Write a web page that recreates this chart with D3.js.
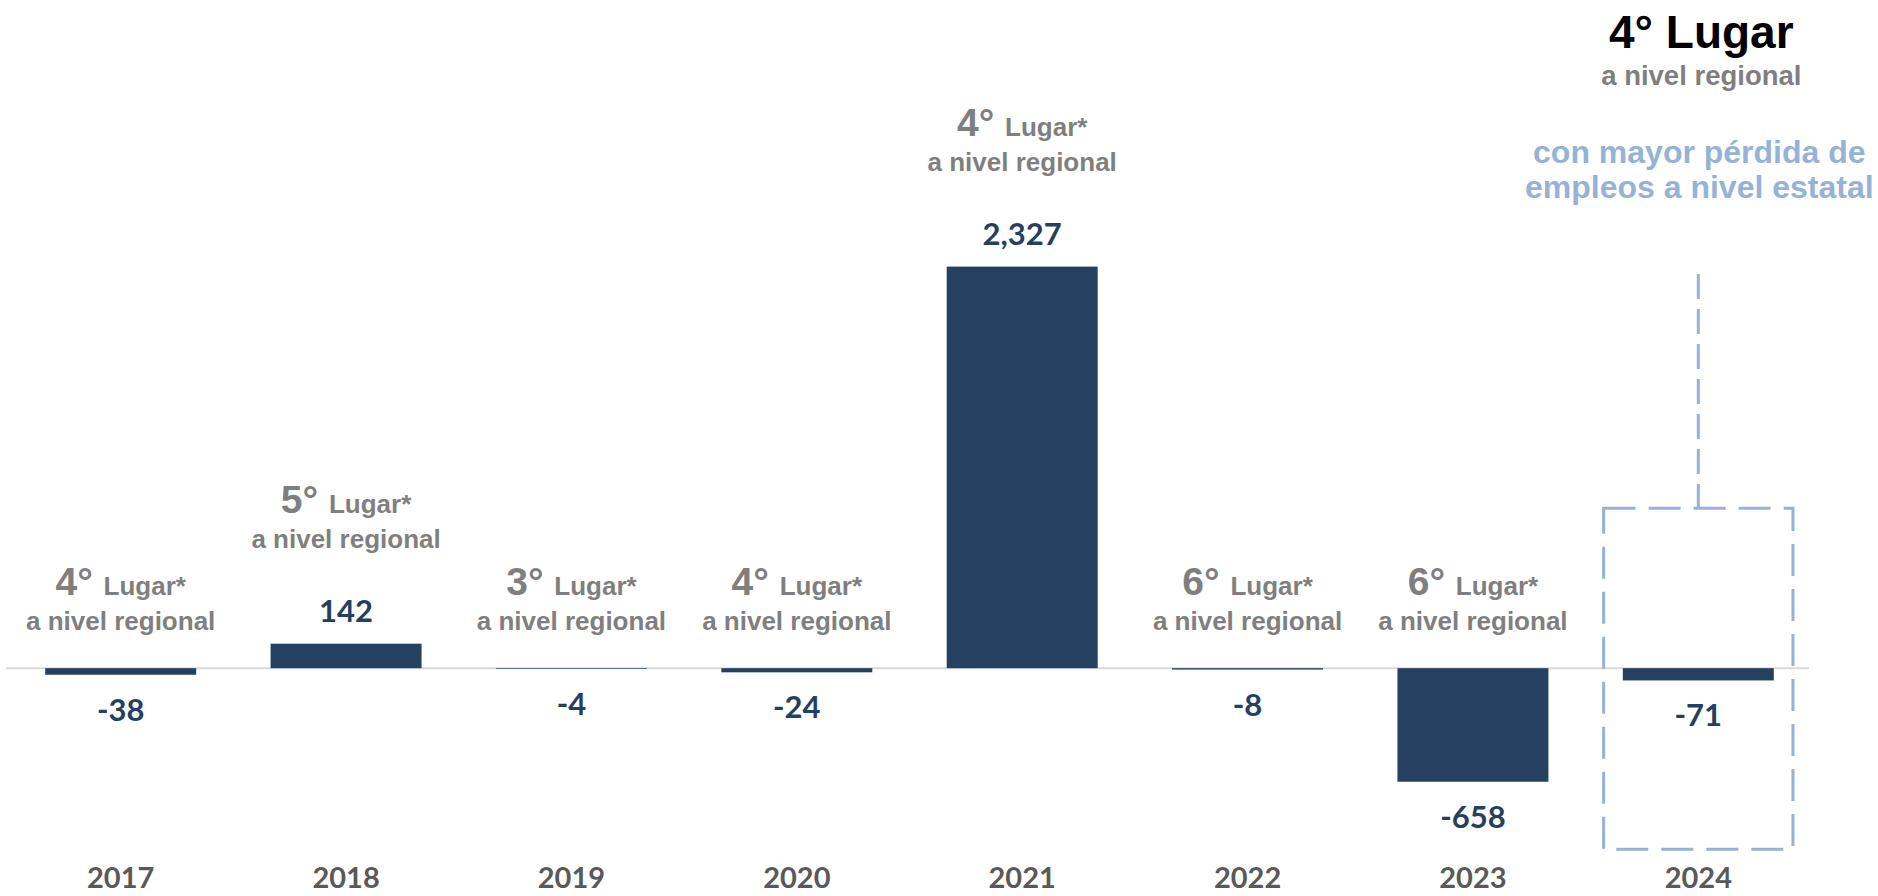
<!DOCTYPE html>
<html>
<head>
<meta charset="utf-8">
<script src="https://cdn.jsdelivr.net/npm/d3@7"></script>
<style>
  html, body { margin: 0; padding: 0; background: #fff; }
  svg { display: block; }
</style>
</head>
<body>
<div id="chart"></div>
<script>
// empleos ganados / perdidos por año
const years = ['2017', '2018', '2019', '2020', '2021', '2022', '2023', '2024']
const values = [-38, 142, -4, -24, 2327, -8, -658, -71]
// lugar a nivel regional (2024 va aparte, arriba a la derecha)
const ranks = [4, 5, 3, 4, 4, 6, 6, null]
const highlightRank = 4
const highlightNote = ['con mayor pérdida de', 'empleos a nivel estatal']

const width = 1878
const height = 896
const barColor = '#264061'
const labelColor = '#243F60'
const grey = '#7F7F7F'
const blue = '#95B3D7'
const arial = '"Liberation Sans", Arial, sans-serif'
const numFont = 'Lato, "Open Sans", sans-serif'

// guion normal, no el signo menos tipográfico
const fmt = d3.formatLocale({ decimal: '.', thousands: ',', grouping: [3], currency: ['$', ''], minus: '-' }).format(',')

const svg = d3
  .select('#chart')
  .append('svg')
  .attr('width', width)
  .attr('height', height)

const x = d3
  .scaleBand()
  .domain(years)
  .range([8, 1811])
  .paddingInner(0.33)
  .paddingOuter(0.165)

const y = d3.scaleLinear().domain([-700, 2400]).range([789, 254])
const y0 = y(0)

// línea base
svg
  .append('line')
  .attr('x1', 6)
  .attr('x2', 1809)
  .attr('y1', y0)
  .attr('y2', y0)
  .attr('stroke', '#D9D9D9')
  .attr('stroke-width', 2)

const data = years.map((year, i) => ({ year, value: values[i], rank: ranks[i] }))

svg
  .selectAll('rect.bar')
  .data(data)
  .enter()
  .append('rect')
  .attr('class', 'bar')
  .attr('x', (d) => x(d.year))
  .attr('width', x.bandwidth())
  .attr('y', (d) => Math.min(y(d.value), y0))
  .attr('height', (d) => Math.abs(y(d.value) - y0))
  .attr('fill', barColor)

// etiquetas de valor
const valueY = (d) => (d.value >= 0 ? y(d.value) - 22 : y(d.value) + 46)

svg
  .selectAll('text.value')
  .data(data)
  .enter()
  .append('text')
  .attr('class', 'value')
  .attr('x', (d) => x(d.year) + x.bandwidth() / 2)
  .attr('y', valueY)
  .attr('text-anchor', 'middle')
  .attr('font-family', numFont)
  .attr('font-weight', 700)
  .attr('font-size', 31)
  .attr('fill', labelColor)
  .text((d) => fmt(d.value))

// años
svg
  .selectAll('text.year')
  .data(data)
  .enter()
  .append('text')
  .attr('class', 'year')
  .attr('x', (d) => x(d.year) + x.bandwidth() / 2)
  .attr('y', 888)
  .attr('text-anchor', 'middle')
  .attr('font-family', numFont)
  .attr('font-weight', 700)
  .attr('font-size', 29)
  .attr('fill', '#595959')
  .text((d) => d.year)

// lugar a nivel regional
const rankLine2 = (d) => (d.value >= 0 ? valueY(d) - 74 : y0 - 38)

const notes = svg
  .selectAll('g.note')
  .data(data.filter((d) => d.rank != null))
  .enter()
  .append('g')
  .attr('class', 'note')
  .attr('font-family', arial)
  .attr('font-weight', 700)
  .attr('fill', grey)

const line1 = notes
  .append('text')
  .attr('x', (d) => x(d.year) + x.bandwidth() / 2)
  .attr('y', (d) => rankLine2(d) - 35)
  .attr('text-anchor', 'middle')

line1
  .append('tspan')
  .attr('font-size', 39)
  .text((d) => d.rank + '° ')

line1
  .append('tspan')
  .attr('font-size', 26)
  .text('Lugar*')

notes
  .append('text')
  .attr('x', (d) => x(d.year) + x.bandwidth() / 2)
  .attr('y', rankLine2)
  .attr('text-anchor', 'middle')
  .attr('font-size', 26)
  .text('a nivel regional')

// 2024 resaltado
const last = years[years.length - 1]
const cx = x(last) + x.bandwidth() / 2
const half = x.step() * 0.42

svg
  .append('rect')
  .attr('x', cx - half)
  .attr('y', y0 - 160)
  .attr('width', half * 2)
  .attr('height', 341)
  .attr('fill', 'none')
  .attr('stroke', blue)
  .attr('stroke-width', 3)
  .attr('stroke-dasharray', '32,13')

svg
  .append('line')
  .attr('x1', cx)
  .attr('x2', cx)
  .attr('y1', 274)
  .attr('y2', y0 - 160)
  .attr('stroke', blue)
  .attr('stroke-width', 3)
  .attr('stroke-dasharray', '25,10')

svg
  .append('text')
  .attr('x', cx + 3)
  .attr('y', 48)
  .attr('text-anchor', 'middle')
  .attr('font-family', arial)
  .attr('font-weight', 700)
  .attr('font-size', 46)
  .attr('fill', '#000')
  .text(highlightRank + '° Lugar')

svg
  .append('text')
  .attr('x', cx + 3)
  .attr('y', 85)
  .attr('text-anchor', 'middle')
  .attr('font-family', arial)
  .attr('font-weight', 700)
  .attr('font-size', 27.5)
  .attr('fill', grey)
  .text('a nivel regional')

svg
  .selectAll('text.hl')
  .data(highlightNote)
  .enter()
  .append('text')
  .attr('class', 'hl')
  .attr('x', cx + 1)
  .attr('y', (d, i) => 163 + i * 35)
  .attr('text-anchor', 'middle')
  .attr('font-family', arial)
  .attr('font-weight', 700)
  .attr('font-size', 32)
  .attr('fill', blue)
  .text((d) => d)
</script>
</body>
</html>
